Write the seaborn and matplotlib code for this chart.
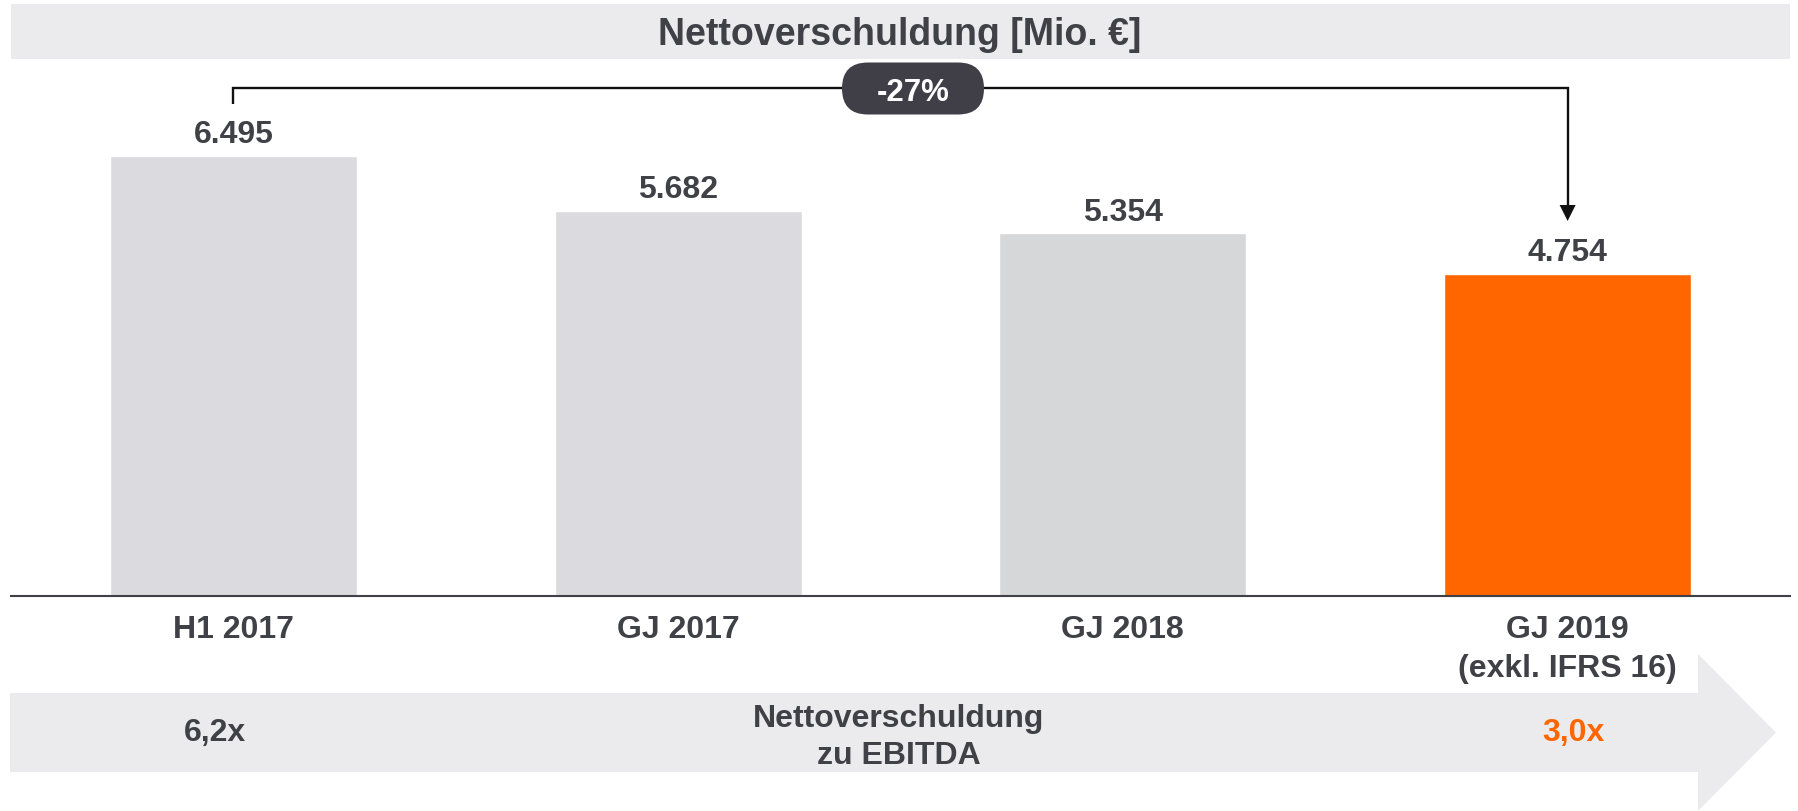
import matplotlib
matplotlib.use("Agg")
import matplotlib.pyplot as plt
import matplotlib.transforms as mtransforms
from matplotlib.patches import Polygon, FancyBboxPatch, Rectangle
import seaborn as sns
import pandas as pd

# ---- data ----
categories = ["H1 2017", "GJ 2017", "GJ 2018", "GJ 2019\n(exkl. IFRS 16)"]
values = [6495, 5682, 5354, 4754]
value_labels = ["6.495", "5.682", "5.354", "4.754"]
bar_colors = ["#dbdbdf", "#dbdbdf", "#d6d7d9", "#ff6600"]
title = "Nettoverschuldung [Mio. €]"
change_label = "-27%"
ratio_left = "6,2x"
ratio_right = "3,0x"
ratio_title = "Nettoverschuldung\nzu EBITDA"

TXT = "#404047"
BAND = "#ebebed"
ORANGE = "#ff6600"

sns.set_theme(style="white")
plt.rcParams["font.family"] = ["Liberation Sans", "DejaVu Sans"]
plt.rcParams["font.weight"] = "bold"

W, H = 1799, 811
fig = plt.figure(figsize=(W / 100, H / 100), dpi=100)
fig.patch.set_facecolor("white")

# pixel transform: (x from left, y from top) -> display
px = mtransforms.Affine2D().scale(1, -1).translate(0, H)

# axes: baseline at y=595.5 px, spanning x 11..1790
ax_left, ax_right, base_y = 11, 1790, 595.5
ax = fig.add_axes([ax_left / W, (H - base_y) / H, (ax_right - ax_left) / W, base_y / H])
ax.set_facecolor("none")

df = pd.DataFrame({"cat": categories, "val": values})
sns.barplot(data=df, x="cat", y="val", hue="cat", palette=bar_colors,
            width=0.555, dodge=False, legend=False, ax=ax, saturation=1)
ax.set_xlim(-0.5, 3.5)
ax.set_ylim(0, 8800)
for s in ["top", "left", "right"]:
    ax.spines[s].set_visible(False)
ax.spines["bottom"].set_color(TXT)
ax.spines["bottom"].set_linewidth(1.5)
ax.set_xticks([])
ax.set_yticks([])
ax.set_xlabel("")
ax.set_ylabel("")

# value labels
for i, (v, lab) in enumerate(zip(values, value_labels)):
    ax.annotate(lab, xy=(i, v), xytext=(0, 9), textcoords="offset points",
                ha="center", va="baseline", fontsize=23, fontweight="bold", color=TXT)

# category labels
xpx = mtransforms.blended_transform_factory(ax.transData, px)
for i, cat in enumerate(categories):
    for j, line in enumerate(cat.split("\n")):
        ax.text(i, 638 + 39 * j, line, transform=xpx, ha="center", va="baseline",
                fontsize=23, fontweight="bold", color=TXT, clip_on=False)

# title band
fig.patches.append(Rectangle((11, 4), 1779, 55, transform=px, facecolor=BAND,
                             edgecolor="none", zorder=0))
fig.text(900, 45, title, transform=px, ha="center", va="baseline",
         fontsize=27, fontweight="bold", color=TXT)

# bracket with arrow from first to last bar
last = len(values) - 1
ax.plot([0, 0, last, last], [104, 88, 88, 207], transform=xpx, color="#111111",
        lw=1.7, clip_on=False, solid_joinstyle="miter", solid_capstyle="butt")
cx_disp = ax.transData.transform((last, 0))[0]
fig.patches.append(Polygon([(cx_disp - 8, 205), (cx_disp + 8, 205), (cx_disp, 221)],
                           closed=True, transform=px, facecolor="#111111",
                           edgecolor="none", zorder=5))

# badge
fig.patches.append(FancyBboxPatch((842, 62.5), 142, 52,
                                  boxstyle="round,pad=0,rounding_size=26",
                                  transform=px, facecolor="#403f47", edgecolor="none",
                                  zorder=6))
fig.text(913, 101, change_label, transform=px, ha="center", va="baseline",
         fontsize=22.5, fontweight="bold", color="white", zorder=7)

# bottom arrow band
fig.patches.append(Polygon([(10, 693), (1698, 693), (1698, 654), (1776, 732.5),
                            (1698, 811), (1698, 772), (10, 772)],
                           closed=True, transform=px, facecolor=BAND,
                           edgecolor="none", zorder=0))
fig.text(215, 741, ratio_left, transform=px, ha="center", va="baseline",
         fontsize=23, fontweight="bold", color=TXT)
fig.text(1573, 741, ratio_right, transform=px, ha="center", va="baseline",
         fontsize=23, fontweight="bold", color=ORANGE)
for j, line in enumerate(ratio_title.split("\n")):
    fig.text(898.5, 727 + 36.5 * j, line, transform=px, ha="center", va="baseline",
             fontsize=23, fontweight="bold", color=TXT)

fig.savefig("out.png", dpi=100, facecolor="white")
